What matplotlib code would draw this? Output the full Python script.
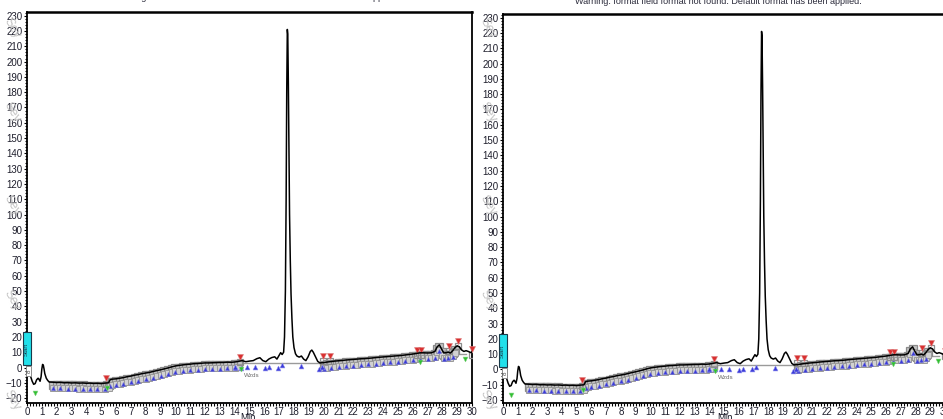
import numpy as np
import matplotlib
matplotlib.use("Agg")
import matplotlib.pyplot as plt
from matplotlib.patches import Rectangle
from matplotlib.ticker import MultipleLocator

plt.rcParams['font.family'] = ['Liberation Sans', 'DejaVu Sans']

# ---- detector trace (time in min, response in mAU) ----
t_start = [0.0, 0.05, 0.15, 0.25, 0.35, 0.45, 0.55, 0.65, 0.75, 0.8, 0.88, 0.95,
           1.0, 1.05, 1.1, 1.15, 1.2, 1.3, 1.4, 1.5]
y_start = [5, 2, -2, -6, -9, -11, -10.5, -8, -7, -7.5, -9, -6,
           -1, 2, 1.5, -1, -4, -7, -8.5, -9.5]

t_flat = [1.75, 2.0, 2.25, 2.5, 2.75, 3.0, 3.25, 3.5, 3.75, 4.0, 4.25, 4.5,
          4.75, 5.0, 5.25, 5.5]
y_flat = [-9.6, -9.8, -9.7, -10.0, -9.9, -10.1, -10.0, -10.2, -10.1, -10.3, -10.2,
          -10.4, -10.3, -10.5, -10.2, -10.0]

t_rise = [5.6, 5.75, 6.0, 6.25, 6.5, 6.75, 7.0, 7.25, 7.5, 7.75, 8.0, 8.25, 8.5,
          8.75, 9.0, 9.25, 9.5, 9.75, 10.0, 10.25, 10.5, 10.75, 11.0, 11.25, 11.5,
          11.75, 12.0, 12.25, 12.5, 12.75, 13.0, 13.25, 13.5, 13.75, 14.0, 14.25]
y_rise = [-8.0, -7.6, -7.4, -7.0, -6.6, -6.0, -5.6, -5.0, -4.6, -4.0, -3.6, -3.2,
          -2.6, -2.0, -1.5, -0.9, -0.3, 0.4, 1.0, 1.4, 1.7, 2.0, 2.2, 2.5, 2.6, 2.8,
          3.0, 3.0, 3.1, 3.2, 3.3, 3.3, 3.5, 3.4, 3.6, 4.0]

t_peak = [14.5, 14.75, 15.0, 15.25, 15.5, 15.7, 15.9, 16.1, 16.3, 16.5, 16.7, 16.85,
          17.0, 17.1, 17.2, 17.3, 17.36, 17.42, 17.47, 17.51, 17.55, 17.58, 17.62,
          17.66, 17.7, 17.75, 17.8, 17.86, 17.92, 18.0, 18.1, 18.2, 18.35, 18.5,
          18.65, 18.8, 18.95, 19.1, 19.2, 19.3, 19.45, 19.6, 19.75, 19.9]
y_peak = [4.5, 3.8, 4.2, 4.5, 5.8, 6.4, 4.5, 3.8, 5.5, 6.5, 7.0, 5.5,
          8.0, 9.7, 8.5, 10.0, 20, 50, 110, 180, 221, 218, 185,
          140, 100, 70, 48, 32, 20, 13, 9, 7.5, 6.8, 7.5,
          5.5, 4.5, 7.0, 10.5, 11.4, 10.0, 7.0, 4.0, 3.0, 3.1]

t_tail = [20.0, 20.25, 20.5, 20.75, 21.0, 21.25, 21.5, 21.75, 22.0, 22.25, 22.5,
          22.75, 23.0, 23.25, 23.5, 23.75, 24.0, 24.25, 24.5, 24.75, 25.0, 25.25,
          25.5, 25.75, 26.0, 26.25, 26.5, 26.75, 27.0, 27.25, 27.5, 27.65, 27.8,
          27.95, 28.1, 28.25, 28.4, 28.55, 28.7, 28.85, 29.0, 29.15, 29.3, 29.45,
          29.6, 29.75, 29.9, 30.0]
y_tail = [3.2, 3.6, 3.9, 4.2, 4.4, 4.6, 4.9, 5.1, 5.3, 5.5, 5.7, 5.8, 6.0, 6.2,
          6.5, 6.7, 6.9, 7.1, 7.3, 7.5, 7.7, 7.9, 8.2, 8.5, 8.8, 9.2, 9.6, 9.6,
          9.5, 9.6, 10.5, 13.5, 14.8, 12.0, 9.5, 9.7, 10.0, 9.5, 11.0, 13.0, 14.2,
          13.5, 11.5, 10.5, 11.0, 10.5, 9.8, 10.0]

# integration events
valley_t = [14.0, 14.4, 14.8, 15.35, 16.05, 16.3, 16.9, 17.2, 18.45, 19.7, 19.9]
valley_y = [0.5, 0.0, 0.5, 0.5, -0.5, 0.5, 0.0, 1.5, 1.0, -1.0, 0.5]
apex_t = [5.35, 14.35, 19.95, 20.45, 26.3, 26.55, 28.45, 29.05, 30.0]
apex_y = [-7.0, 7.0, 7.5, 7.5, 11.4, 11.4, 14.0, 17.5, 12.0]
start_t = [0.55, 5.4, 14.4, 26.5, 29.55]
start_y = [-16.5, -13.5, -1.0, 3.8, 5.5]
base_t = [13.3, 20.0]
base_y = [3.0, 3.0]
base2_t = [27.2, 29.6]
base2_y = [9.0, 9.0]

x_ticks = list(range(0, 31))
y_ticks = list(range(-20, 231, 10))

header = "Warning: format field format not found. Default format has been applied."

trace_t = np.array(t_start + t_flat + t_rise + t_peak + t_tail)
trace_y = np.array(y_start + y_flat + y_rise + y_peak + y_tail)
band_t = np.array(t_flat + t_rise + t_tail[:-8])
band_y = np.array(y_flat + y_rise + y_tail[:-8])

fig = plt.figure(figsize=(9.43, 4.19), dpi=100)


def panel(rect, ylim):
    ax = fig.add_axes(rect)
    ax.set_xlim(0, 30)
    ax.set_ylim(*ylim)
    ax.plot(base_t, base_y, color='#9a9a9a', lw=1.0, zorder=2)
    ax.plot(base2_t, base2_y, color='#9a9a9a', lw=1.0, zorder=2)
    # dense peak-detection band below the baseline
    ax.plot(band_t, band_y - 1.6, ls='none', marker='s', ms=5.5, mfc='#c4c4c4',
            mec='#8a8a8a', mew=0.9, zorder=3)
    ax.plot(band_t, band_y - 3.6, ls='none', marker='s', ms=4.5, mfc='#d2d2d2',
            mec='#9a9a9a', mew=0.7, zorder=3)
    ax.plot(band_t[::2], band_y[::2] - 4.0, ls='none', marker='^', ms=3,
            mfc='#3b3bd8', mec='#7a7ae0', mew=0.3, zorder=4)
    ax.plot(valley_t, valley_y, ls='none', marker='^', ms=3.5, mfc='#3b3bd8',
            mec='#8c8cf0', mew=0.4, zorder=4)
    ax.plot(apex_t, np.array(apex_y) - 3.5, ls='none', marker='s', ms=5, mfc='none',
            mec='#8c8c8c', mew=0.9, zorder=4)
    ax.plot(apex_t, apex_y, ls='none', marker='v', ms=4, mfc='#d83030',
            mec='#e08080', mew=0.4, zorder=5, clip_on=False)
    ax.plot(start_t, start_y, ls='none', marker='v', ms=3.5, mfc='#30c030',
            mec='#80d080', mew=0.4, zorder=5)
    ax.plot(trace_t, trace_y, color='black', lw=1.1, zorder=6)
    ax.text(14.6, -6.2, 'Wzds', fontsize=4.5, color='#6a6a6a', zorder=6)

    ax.set_xticks(x_ticks)
    ax.set_yticks(y_ticks)
    ax.xaxis.set_minor_locator(MultipleLocator(0.2))
    ax.yaxis.set_minor_locator(MultipleLocator(2))
    ax.tick_params(axis='both', which='major', length=2.5, width=0.8,
                   labelsize=7, labelcolor='#1e1e2c', pad=0.8)
    ax.tick_params(axis='x', which='major', pad=0.3)
    ax.tick_params(axis='both', which='minor', length=1.8, width=0.8)
    for s in ax.spines.values():
        s.set_linewidth(1.3)
    ax.spines['top'].set_linewidth(1.8)

    # event label box at the injection point
    ax.add_patch(Rectangle((-0.3, 1.5), 0.55, 21.5, facecolor='#22e0ea',
                           edgecolor='#1a3a4a', lw=0.8, clip_on=False, zorder=7))
    ax.text(-0.03, 12.0, 'Start', rotation=90, fontsize=4.5, color='#1a3a4a',
            ha='center', va='center', zorder=8, clip_on=False)
    ax.add_patch(Rectangle((-0.05, -5.5), 0.35, 6.5, facecolor='white',
                           edgecolor='#8c8c8c', lw=0.7, clip_on=False, zorder=7))
    ax.text(0.13, -2.2, '8', rotation=90, fontsize=4.5, color='#444444',
            ha='center', va='center', zorder=8)
    return ax


ax1 = panel([27 / 943, 16 / 419, 445 / 943, 391 / 419], (-23.2, 232.4))
ax2 = panel([503 / 943, 16 / 419, 442 / 943, 389 / 419], (-21.9, 232.4))

fig.text(256 / 943, 1 + 3 / 419, header, fontsize=6.5, color='#2a2a3a',
         ha='center', va='center')
fig.text(718 / 943, 1 - 2 / 419, header, fontsize=6.5, color='#2a2a3a',
         ha='center', va='center')
fig.text(248 / 943, 1 - 418 / 419, 'Min', fontsize=7, color='#1e1e2c',
         ha='center', va='center')
fig.text(725 / 943, 1 - 418 / 419, 'Min', fontsize=7, color='#1e1e2c',
         ha='center', va='center')

# faint watermark fragments in the margins
for xp in (12, 488):
    for yp in (28, 112, 205, 300, 400):
        fig.text(xp / 943, 1 - yp / 419, 'Sey', fontsize=9, color='#c4c4c4',
                 rotation=-60, ha='center', va='center', zorder=0)

fig.savefig('out.png', dpi=100)
